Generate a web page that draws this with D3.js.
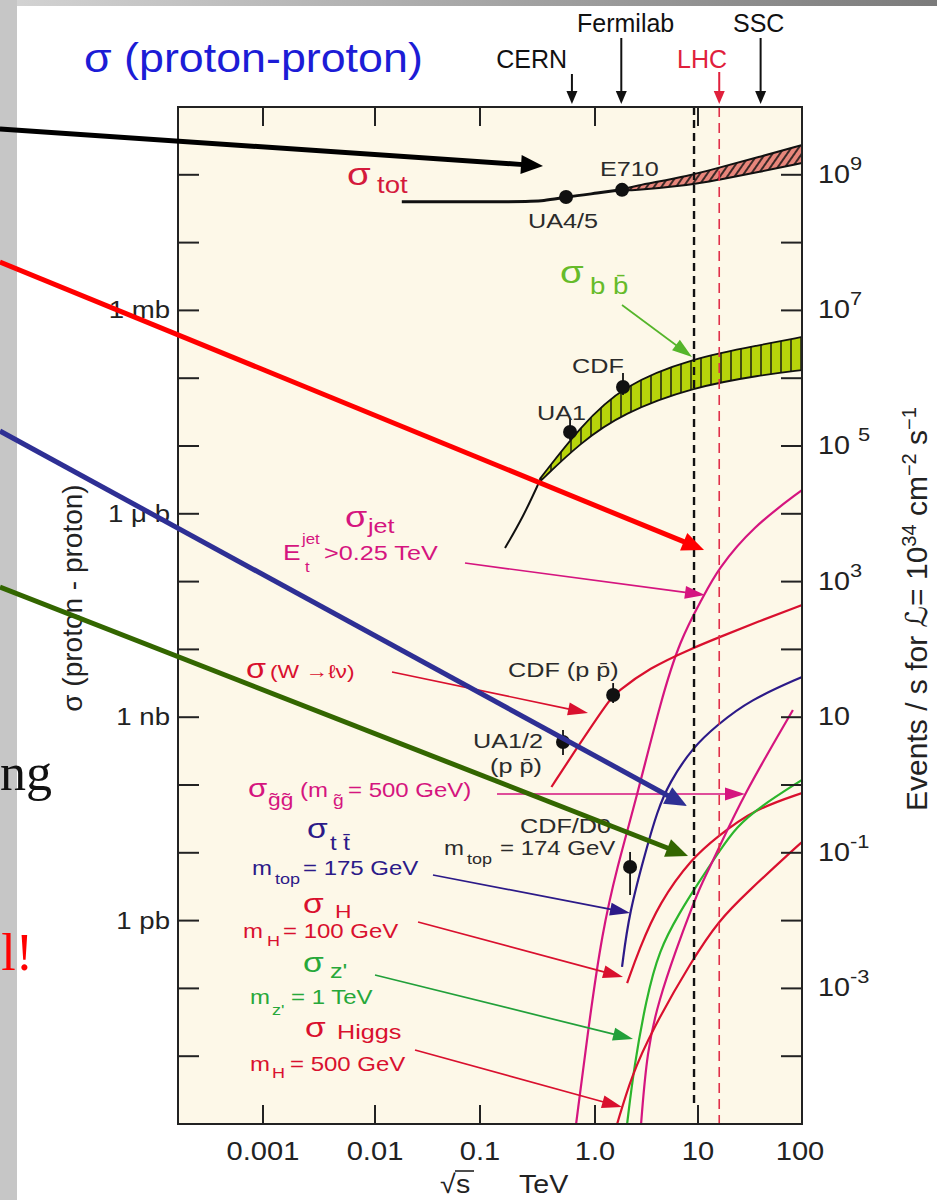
<!DOCTYPE html>
<html><head><meta charset="utf-8">
<script src="https://cdn.jsdelivr.net/npm/d3@7"></script>
<style>body{margin:0;background:#fff;}svg{display:block;}</style>
</head><body>
<svg id="chart" width="937" height="1200"></svg>
<script>
// ================= DATA (sqrt(s) in TeV, cross-sections in mb) =================
const xTickValues = [0.001, 0.01, 0.1, 1, 10, 100];
const xTickLabels = ["0.001", "0.01", "0.1", "1.0", "10", "100"];
const leftLabelValues = [1, 1e-3, 1e-6, 1e-9];
const leftLabelTexts = ["1 mb", "1 μ b", "1 nb", "1 pb"];
const decadeTicks = [1e2, 1e1, 1, 1e-1, 1e-2, 1e-3, 1e-4, 1e-5, 1e-6, 1e-7, 1e-8, 1e-9, 1e-10, 1e-11];
const eventRateValues = [1e9, 1e7, 1e5, 1e3, 10, 1e-1, 1e-3];     // events/s at L = 1e34
const eventRateBase = ["10", "10", "10 ", "10", "10", "10", "10"];
const eventRateExp = ["9", "7", "5", "3", "", "-1", "-3"];
const luminosityFactor = 1e7;                                     // events/s per mb

const machines = ["CERN", "Fermilab", "LHC", "SSC"];
const machineEnergy = [0.63, 1.8, 16, 40];
const tevatronLine = 9.15;      // black dashed
const lhcLine = 16;             // red dashed

// sigma_tot
const totLineE = [0.018, 0.23, 0.36, 0.56, 1.09, 1.8];
const totLineS = [40, 40, 41, 47, 54, 60];
const totBandE = [1.8, 2.14, 8.9, 15.3, 39, 100];
const totBandLo = [60, 58, 71, 84, 110, 149];
const totBandHi = [60, 66, 99, 126, 183, 275];

// sigma_bb
const bbLineE = [0.165, 0.237, 0.333];
const bbLineS = [3.13e-4, 8.97e-4, 3.15e-3];
const bbBandE = [0.333, 0.741, 1.87, 8.94, 40, 100];
const bbBandLo = [3.0e-3, 0.0111, 0.0307, 0.0741, 0.111, 0.132];
const bbBandHi = [3.3e-3, 0.0191, 0.0794, 0.199, 0.309, 0.406];

// curves
const wE = [0.418, 0.659, 1.37, 1.6, 3.34, 8.94, 15.3, 39, 100];
const wS = [9.35e-8, 3.07e-7, 1.79e-6, 2.28e-6, 5.32e-6, 1.05e-5, 1.47e-5, 2.62e-5, 4.52e-5];
const jetE = [0.685, 0.887, 1.17, 1.64, 2.50, 4.37, 6.68, 11.2, 15.3, 33.4, 100];
const jetS = [1e-12, 3.09e-11, 6.56e-10, 6.18e-9, 6.01e-8, 1.79e-6, 1.38e-5, 5.93e-5, 1.48e-4, 6.38e-4, 2.24e-3];
const ttE = [1.83, 2.14, 3.13, 4.0, 5.23, 8.94, 15.3, 31.3, 100];
const ttS = [2.07e-10, 1.29e-9, 1.1e-8, 4.0e-8, 1.07e-7, 3.63e-7, 7.67e-7, 1.79e-6, 3.92e-6];
const h100E = [2.05, 2.67, 4.18, 8.94, 15.3, 33.4, 100];
const h100S = [1.2e-10, 3.68e-10, 1.82e-9, 8.67e-9, 1.71e-8, 4.27e-8, 7.62e-8];
const zpE = [2.05, 2.39, 3.13, 4.18, 6.68, 9.78, 16.3, 23.4, 39, 100];
const zpS = [1e-12, 6.93e-12, 6.74e-11, 3.68e-10, 1.34e-9, 3.35e-9, 1.1e-8, 2.4e-8, 4.74e-8, 1.19e-7];
const glE = [2.80, 3.20, 4.18, 6.11, 8.75, 10.9, 15.3, 26.7, 81.8];
const glS = [1e-12, 1.23e-11, 6.74e-11, 3.68e-10, 1.59e-9, 3.59e-9, 1.03e-8, 6.65e-8, 1.28e-6];
const h500E = [1.64, 2.24, 3.58, 8.75, 16.0, 29.2, 81.8, 100];
const h500S = [1e-12, 4.93e-12, 2.43e-11, 2.62e-10, 1.02e-9, 2.55e-9, 1.1e-8, 1.44e-8];

// measured points
const pointE = [0.56, 1.83, 0.607, 1.87, 0.527, 1.50, 2.19];
const pointS = [47, 60, 0.0161, 0.0741, 4.3e-7, 2.12e-6, 6.2e-9];
const pointHi = [49, 62, 0.0259, 0.119, 6.5e-7, 3.19e-6, 1.03e-8];
const pointLo = [45, 58, 0.0123, 0.0565, 2.77e-7, 1.62e-6, 2.39e-9];

// ================= LAYOUT / STYLE =================
const W = 937, H = 1200;
const P = {l: 178, r: 802, t: 107, b: 1124};
const SANS = "'Liberation Sans', Arial, 'DejaVu Sans', sans-serif";
const SERIF = "'Liberation Serif', 'Times New Roman', serif";
const C = {red: "#d9102e", mag: "#d5157f", navy: "#2c1a88", green: "#27a83a", bb: "#66bb2a",
           gray: "#2b2b2b", tot: "#d41a3c"};

const x = d3.scaleLog()
  .domain([Math.pow(10, -3.76), 1e-3, 1e-2, 1e-1, 1, 10, 100])
  .range([P.l, 263, 375, 480, 595, 698, P.r]);
const y = d3.scaleLog().domain([1e3, 1e-12]).range([P.t, P.b]);
const L = (p) => [x(Math.pow(10, p[0])), y(Math.pow(10, p[1]))]; // log-space anchor -> px

const svg = d3.select("#chart");
const defs = svg.append("defs");

const grad = defs.append("linearGradient").attr("id", "topbar").attr("x1", 0).attr("x2", 1);
grad.append("stop").attr("offset", 0).attr("stop-color", "#d4d4d4");
grad.append("stop").attr("offset", 1).attr("stop-color", "#7b7b7b");

const pt = defs.append("pattern").attr("id", "hatchTot").attr("patternUnits", "userSpaceOnUse")
  .attr("width", 6).attr("height", 6).attr("patternTransform", "rotate(35)");
pt.append("rect").attr("width", 6).attr("height", 6).attr("fill", "#e8867b");
pt.append("line").attr("x1", 1).attr("x2", 1).attr("y1", 0).attr("y2", 6).attr("stroke", "#111").attr("stroke-width", 1.6);

const pb = defs.append("pattern").attr("id", "hatchBB").attr("patternUnits", "userSpaceOnUse")
  .attr("width", 10).attr("height", 10);
pb.append("rect").attr("width", 10).attr("height", 10).attr("fill", "#b7d40b");
pb.append("line").attr("x1", 1).attr("x2", 1).attr("y1", 0).attr("y2", 10).attr("stroke", "#111").attr("stroke-width", 1.4);

defs.append("clipPath").attr("id", "clip").append("rect")
  .attr("x", P.l).attr("y", P.t).attr("width", P.r - P.l).attr("height", P.b - P.t);

// page background
svg.append("rect").attr("width", W).attr("height", H).attr("fill", "#fff");
svg.append("rect").attr("width", W).attr("height", 6).attr("fill", "url(#topbar)");
svg.append("rect").attr("width", 17).attr("height", H).attr("fill", "#c6c6c6");

// text helper
function label(g, px, py, str, size, color, opt = {}) {
  const t = g.append("text")
    .attr("transform", `translate(${px},${py}) scale(${opt.sx ?? 1.2},1)`)
    .attr("font-family", opt.family || SANS).attr("font-size", size).attr("fill", color)
    .attr("text-anchor", opt.anchor || "start").text(str);
  return t;
}
function arrow(g, a, b, color, width, hl, hw) {
  const [x1, y1] = a, [x2, y2] = b;
  const ang = Math.atan2(y2 - y1, x2 - x1);
  const bx = x2 - hl * Math.cos(ang), by = y2 - hl * Math.sin(ang);
  g.append("line").attr("x1", x1).attr("y1", y1).attr("x2", bx + Math.cos(ang) * 2).attr("y2", by + Math.sin(ang) * 2)
    .attr("stroke", color).attr("stroke-width", width);
  const px = -Math.sin(ang) * hw / 2, py = Math.cos(ang) * hw / 2;
  g.append("path").attr("d", `M${x2},${y2}L${bx + px},${by + py}L${bx - px},${by - py}Z`).attr("fill", color);
}

// slide text behind
label(svg, 52, 790, "ng", 52, "#111", {family: SERIF, anchor: "end", sx: 1});
label(svg, 33, 970, "l!", 52, "#ff0000", {family: SERIF, anchor: "end", sx: 1});

// title
label(svg, 84, 72, "σ (proton-proton)", 40, "#1c1cd6", {sx: 1.12});

// plot area
svg.append("rect").attr("x", P.l).attr("y", P.t).attr("width", P.r - P.l).attr("height", P.b - P.t)
  .attr("fill", "#fdf8e8");

const plot = svg.append("g").attr("clip-path", "url(#clip)");
const line = d3.line().x(d => x(d[0])).y(d => y(d[1])).curve(d3.curveBasis);
const area = d3.area().x(d => x(d[0])).y0(d => y(d[1])).y1(d => y(d[2])).curve(d3.curveBasis);

// bands
plot.append("path").datum(d3.zip(totBandE, totBandLo, totBandHi)).attr("d", area)
  .attr("fill", "url(#hatchTot)").attr("stroke", "#111").attr("stroke-width", 2);
plot.append("path").datum(d3.zip(totLineE, totLineS)).attr("d", line)
  .attr("fill", "none").attr("stroke", "#111").attr("stroke-width", 3);
plot.append("path").datum(d3.zip(bbBandE, bbBandLo, bbBandHi)).attr("d", area)
  .attr("fill", "url(#hatchBB)").attr("stroke", "#111").attr("stroke-width", 1.8);
plot.append("path").datum(d3.zip(bbLineE, bbLineS)).attr("d", line)
  .attr("fill", "none").attr("stroke", "#111").attr("stroke-width", 2);

// curves
const curves = [
  {e: jetE, s: jetS, c: C.mag}, {e: wE, s: wS, c: C.red}, {e: ttE, s: ttS, c: C.navy},
  {e: h100E, s: h100S, c: C.red}, {e: zpE, s: zpS, c: "#2cb52c"}, {e: glE, s: glS, c: C.mag},
  {e: h500E, s: h500S, c: C.red}
];
curves.forEach(cv => plot.append("path").datum(d3.zip(cv.e, cv.s)).attr("d", line)
  .attr("fill", "none").attr("stroke", cv.c).attr("stroke-width", 2.2));

// vertical dashed lines
svg.append("line").attr("x1", x(tevatronLine)).attr("x2", x(tevatronLine)).attr("y1", P.t).attr("y2", 1108)
  .attr("stroke", "#111").attr("stroke-width", 2.4).attr("stroke-dasharray", "8,5");
svg.append("line").attr("x1", x(lhcLine)).attr("x2", x(lhcLine)).attr("y1", P.t).attr("y2", 1128)
  .attr("stroke", "#e0304a").attr("stroke-width", 1.6).attr("stroke-dasharray", "10,6");

// frame and ticks
const ax = svg.append("g").attr("stroke", "#222");
ax.append("rect").attr("x", P.l).attr("y", P.t).attr("width", P.r - P.l).attr("height", P.b - P.t)
  .attr("fill", "none").attr("stroke-width", 2);
decadeTicks.forEach(v => {
  ax.append("line").attr("x1", P.l).attr("x2", P.l + 21).attr("y1", y(v)).attr("y2", y(v)).attr("stroke-width", 2);
  ax.append("line").attr("x1", P.r - 21).attr("x2", P.r).attr("y1", y(v)).attr("y2", y(v)).attr("stroke-width", 2);
});
xTickValues.slice(0, 5).forEach(v => {
  ax.append("line").attr("x1", x(v)).attr("x2", x(v)).attr("y1", P.t).attr("y2", P.t + 19).attr("stroke-width", 2);
  ax.append("line").attr("x1", x(v)).attr("x2", x(v)).attr("y1", P.b - 19).attr("y2", P.b).attr("stroke-width", 2);
});

// axis labels
xTickValues.forEach((v, i) => label(svg, Math.min(x(v), 800), 1160, xTickLabels[i], 26, "#222", {anchor: "middle", sx: 1.12}));
leftLabelValues.forEach((v, i) => label(svg, 170, y(v) + 8, leftLabelTexts[i], 24, "#222", {anchor: "end", sx: 1.15}));
eventRateValues.forEach((v, i) => {
  const t = label(svg, 818, y(v / luminosityFactor) + 8, eventRateBase[i], 25, "#222", {sx: 1.15});
  if (eventRateExp[i]) t.append("tspan").attr("dy", -13).attr("font-size", 19).text(eventRateExp[i]);
});
label(svg, 440, 1193, "√", 26, "#222", {sx: 1.1});
label(svg, 456, 1193, "s", 26, "#222", {sx: 1.1});
svg.append("line").attr("x1", 455).attr("x2", 474).attr("y1", 1171).attr("y2", 1171).attr("stroke", "#222").attr("stroke-width", 1.6);
label(svg, 519, 1193, "TeV", 26, "#222", {sx: 1.1});

svg.append("text").attr("transform", "translate(82,598) rotate(-90)").attr("text-anchor", "middle")
  .attr("font-family", SANS).attr("font-size", 28).attr("fill", "#222").text("σ (proton - proton)");
const rt = svg.append("text").attr("transform", "translate(927,609) rotate(-90)").attr("text-anchor", "middle")
  .attr("font-family", SANS).attr("font-size", 30).attr("fill", "#222");
rt.append("tspan").text("Events / s  for ℒ= 10");
rt.append("tspan").attr("dy", -11).attr("font-size", 20).text("34");
rt.append("tspan").attr("dy", 11).text(" cm");
rt.append("tspan").attr("dy", -11).attr("font-size", 20).text("−2");
rt.append("tspan").attr("dy", 11).text(" s");
rt.append("tspan").attr("dy", -11).attr("font-size", 20).text("−1");

// machine arrows
const machineLabelX = [567, 577, 677, 733];
const machineLabelY = [68, 32, 68, 32];
const machineArrowTop = [74, 38, 72, 38];
machines.forEach((m, i) => {
  const col = m === "LHC" ? "#e0203c" : "#111";
  label(svg, machineLabelX[i], machineLabelY[i], m, 25, col,
    {sx: 1.0, anchor: m === "CERN" ? "end" : "start"});
  arrow(svg, [x(machineEnergy[i]), machineArrowTop[i]], [x(machineEnergy[i]), 104], col, 2, 13, 11);
});

// measured points
const pts = svg.append("g");
pointE.forEach((e, i) => {
  pts.append("line").attr("x1", x(e)).attr("x2", x(e)).attr("y1", y(pointHi[i])).attr("y2", y(pointLo[i]))
    .attr("stroke", "#111").attr("stroke-width", 1.8);
  pts.append("circle").attr("cx", x(e)).attr("cy", y(pointS[i])).attr("r", 7).attr("fill", "#111");
});

// annotation text
const an = svg.append("g");
label(an, 347, 185, "σ", 32, C.tot); label(an, 377, 193, "tot", 23, C.tot);
label(an, 600, 176, "E710", 21, C.gray);
label(an, 528, 228, "UA4/5", 21, C.gray);
label(an, 560, 283, "σ", 32, C.bb); label(an, 590, 294, "b b̄", 23, C.bb);
label(an, 572, 373, "CDF", 21, C.gray);
label(an, 537, 420, "UA1", 21, C.gray);
label(an, 345, 527, "σ", 30, C.mag); label(an, 368, 533, "jet", 21, C.mag);
label(an, 283, 560, "E", 22, C.mag); label(an, 302, 544, "jet", 14, C.mag); label(an, 305, 572, "t", 14, C.mag);
label(an, 324, 560, ">0.25 TeV", 21, C.mag);
label(an, 246, 678, "σ", 27, C.red); label(an, 270, 678, "(W →ℓν)", 19, C.red);
label(an, 508, 677, "CDF (p p̄)", 21, C.gray);
label(an, 473, 748, "UA1/2", 21, C.gray); label(an, 490, 773, "(p p̄)", 21, C.gray);
label(an, 248, 797, "σ", 26, C.mag); label(an, 268, 806, "g̃g̃", 19, C.mag);
label(an, 300, 797, "(m", 20, C.mag); label(an, 333, 806, "g̃", 16, C.mag); label(an, 348, 797, "= 500 GeV)", 20, C.mag);
label(an, 307, 838, "σ", 28, C.navy); label(an, 330, 850, "t t̄", 20, C.navy);
label(an, 252, 875, "m", 20, C.navy); label(an, 275, 884, "top", 15, C.navy); label(an, 303, 875, "= 175 GeV", 20, C.navy);
label(an, 520, 833, "CDF/D0", 21, C.gray);
label(an, 444, 855, "m", 20, C.gray); label(an, 467, 864, "top", 15, C.gray); label(an, 500, 855, "= 174 GeV", 20, C.gray);
label(an, 303, 913, "σ", 28, C.red); label(an, 335, 918, "H", 19, C.red);
label(an, 243, 938, "m", 20, C.red); label(an, 267, 946, "H", 15, C.red); label(an, 283, 938, "= 100 GeV", 20, C.red);
label(an, 303, 972, "σ", 28, C.green); label(an, 330, 978, "z'", 21, C.green);
label(an, 250, 1004, "m", 20, C.green); label(an, 272, 1015, "z'", 15, C.green); label(an, 291, 1004, "= 1 TeV", 20, C.green);
label(an, 305, 1037, "σ", 28, C.red); label(an, 337, 1039, "Higgs", 21, C.red);
label(an, 250, 1071, "m", 20, C.red); label(an, 272, 1078, "H", 15, C.red); label(an, 290, 1071, "= 500 GeV", 20, C.red);

// small annotation arrows (log10 sqrt(s), log10 sigma) anchors
const smallArrows = [
  {from: [0.262, 0.080], to: [0.942, -0.687], c: "#55b52a"},
  {from: [-1.143, -3.726], to: [1.067, -4.198], c: C.mag},
  {from: [-1.838, -5.333], to: [-0.061, -5.938], c: C.red},
  {from: [-0.852, -7.133], to: [1.452, -7.133], c: C.mag},
  {from: [-1.448, -8.327], to: [0.340, -8.888], c: C.navy},
  {from: [-1.590, -9.021], to: [0.272, -9.832], c: C.red},
  {from: [-2.0, -9.802], to: [0.369, -10.746], c: "#22a03a"},
  {from: [-1.619, -10.909], to: [0.262, -11.749], c: C.red}
];
smallArrows.forEach(a => arrow(an, L(a.from), L(a.to), a.c, 1.7, 20, 13));

// big arrows from the slide
const bigArrows = [
  {from: [-5.352, 2.676], to: [-0.452, 2.130], c: "#000"},
  {from: [-5.352, 0.714], to: [1.058, -3.534], c: "#ff0000"},
  {from: [-5.352, -1.779], to: [0.893, -7.310], c: "#2e2f94"},
  {from: [-5.352, -4.080], to: [0.903, -8.047], c: "#336600"}
];
bigArrows.forEach(a => arrow(svg, L(a.from), L(a.to), a.c, 5, 22, 19));
</script>
</body></html>
